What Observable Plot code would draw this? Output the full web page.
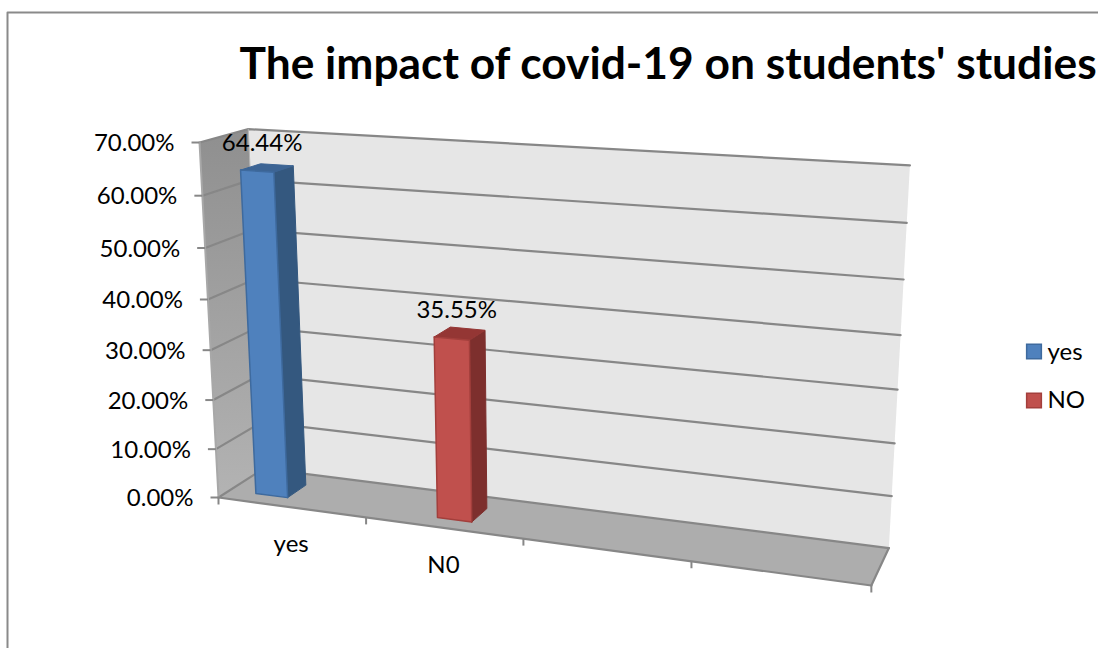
<!DOCTYPE html>
<html>
<head>
<meta charset="utf-8">
<script src="https://cdn.jsdelivr.net/npm/d3@7"></script>
<script src="https://cdn.jsdelivr.net/npm/@observablehq/plot@0.6"></script>
<style>
  html, body { margin: 0; padding: 0; background: #fff; overflow: hidden; }
  svg { display: block; overflow: hidden; }
</style>
</head>
<body>
<script>
const chartTitle = "The impact of covid-19 on students' studies";
const categories = ["yes", "N0"];
const seriesNames = ["yes", "NO"];
const seriesValues = [64.44, 35.55];
const valueTicks = [0, 10, 20, 30, 40, 50, 60, 70];
const categorySlots = [0, 1, 2, 3, 4];

const labelFont = "Lato";
const labelSize = 24;

// Perspective camera: category slot u, percentage value, depth w (0 front, 1 back).
function project(u, value, w) {
  const v = value / 10;
  const d = 1 - 0.0309 * u - 0.00773 * v + 0.048 * w;
  return {
    x: (218 + 136.3 * u - 4.25 * v + 58 * w) / d,
    y: (497 + 3.92 * u - 51.81 * v - 6.5 * w) / d
  };
}

const uMax = 4, vMax = 70;
const face = (pts, fill, stroke, strokeWidth = 1) =>
  Plot.line([...pts, pts[0]], {x: "x", y: "y", fill, stroke, strokeWidth, strokeLinejoin: "round"});
const edge = (pts, stroke, strokeWidth = 2) =>
  Plot.line(pts, {x: "x", y: "y", stroke, strokeWidth});

const A = project(0, 0, 0), B = project(uMax, 0, 0), C = project(uMax, 0, 1), D = project(0, 0, 1);
const E = project(0, vMax, 0), F = project(0, vMax, 1), G = project(uMax, vMax, 1);

// One 3-D column: side, top and front faces, painted back to front.
const barWidth = 0.22, barFront = 0.25, barBack = 0.67;
const barStarts = [0.18, 1.40];
const barColors = [
  {front: "#4f81bd", side: "#34587f", top: "#3c6494", line: "#3e6a9e"},
  {front: "#c0504d", side: "#7d2f2d", top: "#943634", line: "#a33f3c"}
];
function barMarks(i) {
  const u0 = barStarts[i], u1 = u0 + barWidth, val = seriesValues[i], c = barColors[i];
  const p = (u, v, w) => project(u, v, w);
  return [
    face([p(u1, 0, barFront), p(u1, 0, barBack), p(u1, val, barBack), p(u1, val, barFront)], c.side, c.side),
    face([p(u0, val, barFront), p(u1, val, barFront), p(u1, val, barBack), p(u0, val, barBack)], c.top, c.top),
    face([p(u0, 0, barFront), p(u1, 0, barFront), p(u1, val, barFront), p(u0, val, barFront)], c.front, c.line, 1.5)
  ];
}

const chart = Plot.plot({
  width: 1098,
  height: 648,
  margin: 0,
  x: {type: "identity", axis: null},
  y: {type: "identity", axis: null},
  style: {background: "#fff", fontFamily: labelFont},
  marks: [
    // Chart area border, running off the page to the right and below.
    Plot.line([{x: 7, y: 648}, {x: 7, y: 12}, {x: 1098, y: 12}], {x: "x", y: "y", stroke: "#8a8a8a", strokeWidth: 2}),

    Plot.text([chartTitle], {
      x: 239, y: 64, text: d => d, textAnchor: "start", lineAnchor: "middle",
      fontSize: 44.3, fontWeight: 700, fontFamily: labelFont, fill: "#000"
    }),

    // Walls and floor.
    face([D, C, G, F], "#e6e6e6", "none"),
    face([A, D, F, E], "url(#sideWall)", "none"),
    face([A, B, C, D], "#adadad", "none"),

    // Gridlines across the side and back walls.
    ...valueTicks.map(v => edge([project(0, v, 0), project(0, v, 1), project(uMax, v, 1)], "#878787", 2.2)),
    edge([A, E], "#a8a8a8"),
    edge([D, F], "#b5b5b5", 1),
    edge([A, B], "#878787", 2.2),
    edge([B, C], "#878787", 2.2),

    // Axis ticks.
    Plot.link(valueTicks, {
      x1: v => project(0, v, 0).x, y1: v => project(0, v, 0).y,
      x2: v => project(0, v, 0).x - 8, y2: v => project(0, v, 0).y,
      stroke: "#878787", strokeWidth: 2
    }),
    Plot.link(categorySlots, {
      x1: u => project(u, 0, 0).x, y1: u => project(u, 0, 0).y,
      x2: u => project(u, 0, 0).x, y2: u => project(u, 0, 0).y + 7,
      stroke: "#878787", strokeWidth: 2
    }),

    ...barMarks(0),
    ...barMarks(1),

    // Value axis labels.
    Plot.text(valueTicks, {
      x: v => project(0, v, 0).x, y: v => project(0, v, 0).y,
      text: v => v.toFixed(2) + "%", textAnchor: "end", dx: -25, dy: 1,
      fontSize: labelSize, fontFamily: labelFont, fill: "#000"
    }),

    // Category labels.
    Plot.text(categories, {
      x: (d, i) => project(i + 0.5, 0, 0).x, y: (d, i) => project(i + 0.5, 0, 0).y,
      text: d => d, dy: 37,
      fontSize: labelSize, fontFamily: labelFont, fill: "#000"
    }),

    // Value labels above the columns.
    Plot.text(seriesValues, {
      x: (d, i) => project(barStarts[i] + barWidth / 2, d, barFront).x,
      y: (d, i) => project(barStarts[i] + barWidth / 2, d, barFront).y,
      text: d => d.toFixed(2) + "%", dx: 5, dy: -28,
      fontSize: labelSize, fontFamily: labelFont, fill: "#000"
    }),

    // Legend.
    Plot.dot(seriesNames, {
      x: 1033.5, y: (d, i) => 351 + i * 49, symbol: "square", r: 8.3,
      fill: (d, i) => barColors[i].front, stroke: (d, i) => barColors[i].line, strokeWidth: 1.5
    }),
    Plot.text(seriesNames, {
      x: 1047, y: (d, i) => 352 + i * 48, text: d => d, textAnchor: "start",
      fontSize: labelSize, fontFamily: labelFont, fill: "#000"
    })
  ]
});

// Shading for the side wall, lighter toward the floor.
chart.insertAdjacentHTML("afterbegin",
  '<defs><linearGradient id="sideWall" x1="0" y1="0" x2="0" y2="1">' +
  '<stop offset="0" stop-color="#8f8f8f"/><stop offset="1" stop-color="#b3b3b3"/>' +
  '</linearGradient></defs>');

document.body.appendChild(chart);
</script>
</body>
</html>
